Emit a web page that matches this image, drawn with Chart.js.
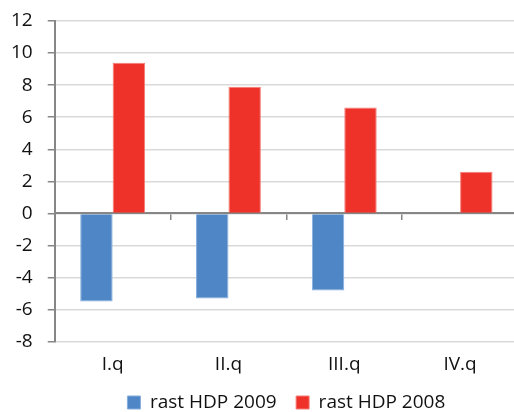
<!DOCTYPE html>
<html>
<head>
<meta charset="utf-8">
<script src="https://cdn.jsdelivr.net/npm/chart.js@4/dist/chart.umd.min.js"></script>
<style>
  html, body { margin: 0; padding: 0; background: #fff; }
  #wrap { width: 514px; height: 412px; overflow: hidden; }
  canvas { display: block; }
</style>
</head>
<body>
<div id="wrap"><canvas id="c" width="518" height="412"></canvas></div>
<script>
// Quarterly GDP growth (%)
const quarters = ['I.q', 'II.q', 'III.q', 'IV.q'];
const growth2009 = [-5.5, -5.3, -4.8, null];
const growth2008 = [9.4, 7.9, 6.6, 2.6];
const seriesNames = ['rast HDP 2009', 'rast HDP 2008'];

const FONT = 'Open Sans';
const INK = '#111';
const AXIS = '#868686';
const GRID = '#D9D9D9';

new Chart(document.getElementById('c'), {
  type: 'bar',
  data: {
    labels: quarters,
    datasets: [
      { label: seriesNames[0], data: growth2009, backgroundColor: '#4F86C6', borderColor: '#85AEDD', borderWidth: 1 },
      { label: seriesNames[1], data: growth2008, backgroundColor: '#EE3229', borderColor: '#F47D77', borderWidth: 1 }
    ]
  },
  options: {
    responsive: false,
    animation: false,
    datasets: { bar: { barPercentage: 1, categoryPercentage: 0.56 } },
    layout: { padding: { top: 21, left: -4, right: 0, bottom: -10 } },
    plugins: {
      tooltip: { enabled: false },
      legend: {
        position: 'bottom',
        fullSize: false,
        labels: {
          font: { family: FONT, size: 19 },
          color: INK,
          boxWidth: 13,
          boxHeight: 13,
          padding: 19.5
        }
      }
    },
    scales: {
      // axis line through zero with tick marks between the quarters
      x: {
        position: { y: 0 },
        offset: true,
        grid: { display: true, drawOnChartArea: false, drawTicks: true, tickLength: 6, color: AXIS, lineWidth: 1.5 },
        border: { display: true, color: AXIS, width: 2 },
        ticks: { display: false }
      },
      // quarter labels along the bottom; the box is trimmed so the legend sits close
      x2: {
        type: 'category',
        position: 'bottom',
        offset: true,
        grid: { display: false, drawTicks: false },
        border: { display: false },
        ticks: { font: { family: FONT, size: 19 }, color: INK, padding: 11 },
        afterFit(scale) { scale.height -= 13; }
      },
      y: {
        min: -8,
        max: 12,
        ticks: { stepSize: 2, font: { family: FONT, size: 19 }, color: INK, padding: 15 },
        grid: { color: GRID, lineWidth: 1.5, tickColor: AXIS, tickLength: 7 },
        border: { display: true, color: AXIS, width: 2 },
        afterFit(scale) { scale.paddingTop = 11; scale.paddingBottom = 11; }
      }
    }
  }
});
</script>
</body>
</html>
